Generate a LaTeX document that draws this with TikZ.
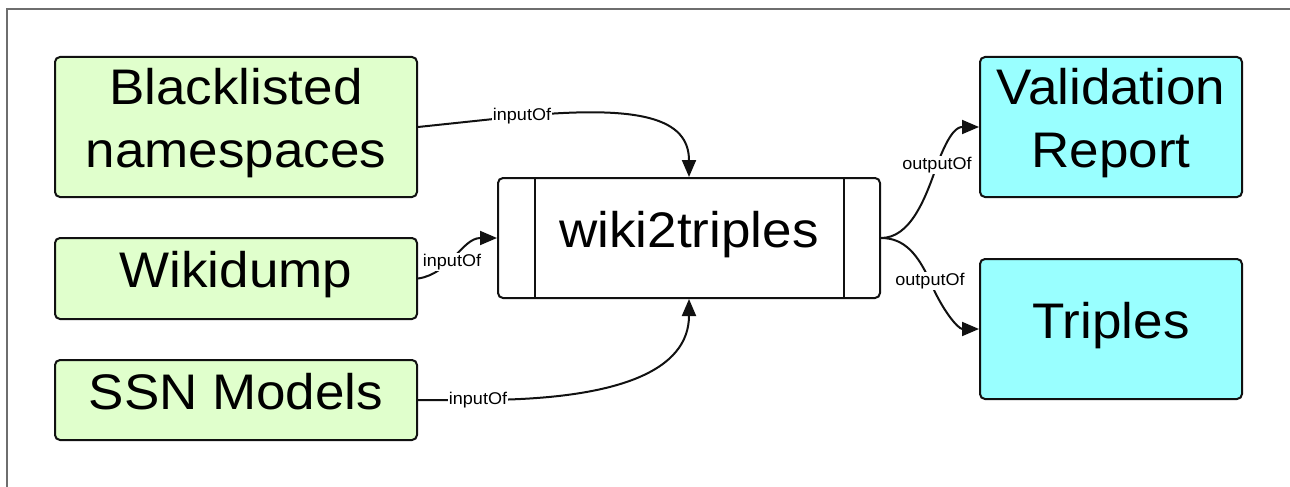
\documentclass[tikz,border=0pt]{standalone}
\usepackage{fontspec}
\setmainfont{Liberation Sans}[FakeStretch=1.06]
\usetikzlibrary{arrows.meta}

\definecolor{inputgreen}{RGB}{224,255,204}
\definecolor{outputcyan}{RGB}{153,255,255}
\definecolor{framegray}{RGB}{110,110,110}
\definecolor{edgeblack}{RGB}{17,17,17}

% extra depth under the last line of a two-line box, to lift its text a little
\newcommand{\deepline}{\rule[-19pt]{0pt}{0pt}}

\tikzset{
  box/.style={draw=edgeblack, line width=2pt, rounded corners=5pt,
    font=\fontsize{50}{63}\selectfont, align=center, inner sep=0pt},
  oneline/.style={text height=36pt, text depth=18pt},
  inbox/.style={box, fill=inputgreen, minimum width=362pt},
  outbox/.style={box, fill=outputcyan, minimum width=262pt, minimum height=140pt},
  procbox/.style={box, fill=white, minimum width=382pt, minimum height=120pt},
  conn/.style={draw=edgeblack, line width=2pt},
  arr/.style={conn, -{Triangle[length=17pt,width=14pt]}},
  lbl/.style={fill=white, inner sep=1pt, font=\fontsize{17}{20}\selectfont},
  frame/.style={draw=framegray, line width=2pt}
}

\begin{document}
\begin{tikzpicture}[x=1pt, y=-1pt]
  \useasboundingbox (0,0) rectangle (1290,487);
  \draw[frame] (1290,9) -- (7,9) -- (7,487);

  % input artefacts
  \node[inbox, minimum height=140pt] (bl) at (236,127) {Blacklisted\\namespaces\deepline};
  \node[inbox, oneline, minimum height=81pt] (wd) at (236,278.5) {Wikidump};
  \node[inbox, oneline, minimum height=80pt] (ssn) at (236,400) {SSN Models};

  % the process
  \node[procbox, oneline] (w) at (689,238) {wiki2triples};
  \draw[conn] ([xshift=38pt]w.north west) -- ([xshift=38pt]w.south west);
  \draw[conn] ([xshift=-37pt]w.north east) -- ([xshift=-37pt]w.south east);

  % outputs
  \node[outbox] (vr) at (1111,127) {Validation\\Report\deepline};
  \node[outbox, oneline] (tr) at (1111,329) {Triples};

  % label anchor points
  \coordinate (c1) at (522,116);
  \coordinate (c2) at (452,262);
  \coordinate (c3) at (478,400);
  \coordinate (c4) at (937,165);
  \coordinate (c5) at (930,281);

  % connectors
  \draw[arr] (bl.east) -- (c1) .. controls (640,105) and (689,118) .. (w.north);
  \draw[arr] (wd.east) .. controls (450,274) and (462,238) .. (w.west);
  \draw[arr] (ssn.east) -- (c3) .. controls (620,400) and (689,370) .. (w.south);
  \draw[arr] (w.east) .. controls (910,238) and (925,200) .. (c4)
                      .. controls (950,130) and (958,127) .. (vr.west);
  \draw[arr] (w.east) .. controls (905,238) and (918,255) .. (c5)
                      .. controls (942,310) and (958,329) .. (tr.west);

  % connector labels
  \node[lbl] (l1) at (c1) {inputOf};
  \node[lbl] (l2) at (c2) {inputOf};
  \node[lbl] (l3) at (c3) {inputOf};
  \node[lbl] (l4) at (c4) {outputOf};
  \node[lbl] (l5) at (c5) {outputOf};
\end{tikzpicture}
\end{document}
